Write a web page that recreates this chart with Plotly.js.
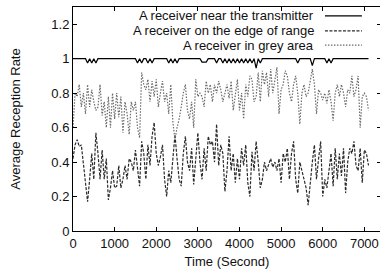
<!DOCTYPE html>
<html>
<head>
<meta charset="utf-8">
<script src="https://cdn.plot.ly/plotly-3.0.1.min.js"></script>
<style>html,body{margin:0;padding:0;overflow:hidden;background:#fff;}</style>
</head>
<body>
<div id="chart"></div>
<script>
// Time axis (seconds), one sample every 50 s
const timeStart = 0, timeStep = 50, timeCount = 143;
const times = Array.from({length: timeCount}, (_, i) => timeStart + i * timeStep);

const seriesNames = ["A receiver near the transmitter", "A receiver on the edge of range", "A receiver in grey area"];

// Near transmitter: 1.0 with small dips
const nearDipTimes = [350, 450, 550, 1550, 1650, 1800, 1900, 2300, 2400, 2500, 3100, 3150, 3200,
  3450, 3600, 3700, 3800, 3900, 4000, 4100, 4200, 4300, 4400, 4500, 5400, 5750, 6100, 6200];
const nearDipValues = [0.975, 0.975, 0.975, 0.975, 0.975, 0.975, 0.975, 0.975, 0.975, 0.975, 0.98, 0.98, 0.98,
  0.975, 0.975, 0.975, 0.975, 0.975, 0.975, 0.975, 0.975, 0.975, 0.945, 0.975, 0.975, 0.96, 0.975, 0.975];

const edgeValues = [
  0.42,0.50,0.53,0.49,0.50,0.38,0.30,0.17,0.30,0.45,
  0.30,0.57,0.45,0.30,0.47,0.30,0.42,0.18,0.25,0.35,
  0.25,0.26,0.38,0.25,0.30,0.38,0.30,0.42,0.40,0.35,
  0.47,0.35,0.26,0.52,0.45,0.30,0.50,0.38,0.55,0.63,
  0.45,0.38,0.43,0.50,0.30,0.20,0.35,0.28,0.40,0.56,
  0.42,0.30,0.26,0.45,0.55,0.40,0.35,0.48,0.27,0.45,
  0.57,0.40,0.30,0.48,0.35,0.55,0.50,0.52,0.40,0.62,
  0.38,0.50,0.45,0.23,0.35,0.55,0.35,0.45,0.28,0.42,
  0.30,0.48,0.38,0.50,0.28,0.20,0.46,0.35,0.52,0.40,
  0.25,0.30,0.40,0.35,0.38,0.42,0.37,0.40,0.35,0.42,
  0.28,0.45,0.40,0.48,0.30,0.45,0.52,0.30,0.22,0.40,
  0.35,0.30,0.25,0.15,0.30,0.40,0.50,0.30,0.42,0.52,
  0.20,0.30,0.25,0.35,0.45,0.26,0.48,0.30,0.45,0.32,
  0.48,0.22,0.40,0.48,0.45,0.52,0.38,0.35,0.48,0.28,
  0.47,0.45,0.38];

const greyValues = [
  0.60,0.80,0.78,0.85,0.72,0.80,0.68,0.85,0.72,0.82,
  0.75,0.70,0.72,0.85,0.67,0.75,0.60,0.78,0.60,0.80,
  0.65,0.80,0.66,0.78,0.57,0.75,0.68,0.56,0.75,0.70,
  0.75,0.60,0.54,0.92,0.85,0.82,0.88,0.75,0.87,0.78,
  0.88,0.72,0.80,0.87,0.75,0.80,0.68,0.85,0.63,0.53,
  0.60,0.65,0.72,0.80,0.85,0.70,0.65,0.75,0.60,0.88,
  0.78,0.80,0.78,0.72,0.87,0.80,0.85,0.75,0.85,0.80,
  0.87,0.82,0.75,0.80,0.85,0.77,0.87,0.70,0.80,0.88,
  0.70,0.80,0.65,0.85,0.78,0.90,0.88,0.75,0.78,0.92,
  0.75,0.93,0.85,0.92,0.78,0.94,0.80,0.88,0.95,0.68,
  0.82,0.85,0.93,0.90,0.80,0.75,0.85,0.90,0.80,0.62,
  0.80,0.85,0.78,0.80,0.88,0.94,0.85,0.68,0.82,0.80,
  0.76,0.80,0.74,0.82,0.75,0.64,0.80,0.85,0.78,0.85,
  0.80,0.72,0.82,0.80,0.90,0.78,0.82,0.90,0.60,0.78,
  0.80,0.78,0.70];

const xTickVals = [0,1000,2000,3000,4000,5000,6000,7000];
const yTickVals = [0,0.2,0.4,0.6,0.8,1,1.2];
const yTickText = ["0","0.2","0.4","0.6","0.8","1","1.2"];

const nearValues = times.map(t => {
  const k = nearDipTimes.indexOf(t);
  return k >= 0 ? nearDipValues[k] : 1;
});

const styles = [
  {color: "#000000", dash: "solid", width: 1.2},
  {color: "#2a2a2a", dash: "3px,1.5px", width: 1.2},
  {color: "#6a6a6a", dash: "1.5px,1.5px", width: 1.2}
];
const seriesValues = [nearValues, edgeValues, greyValues];

const traces = seriesValues.map((v, i) => ({
  x: times, y: v, type: "scatter", mode: "lines", name: seriesNames[i],
  line: {color: styles[i].color, dash: styles[i].dash, width: styles[i].width},
  showlegend: false, hoverinfo: "skip"
}));

const font = {family: "Liberation Sans, Arial, sans-serif", size: 13, color: "#111"};
const legendTextX = 0.789, legendLineX0 = 0.818, legendLineX1 = 0.938;
const legendRowY = [0.960, 0.893, 0.830];

const annotations = seriesNames.map((n, i) => ({
  xref: "paper", yref: "paper", x: legendTextX, y: legendRowY[i],
  xanchor: "right", yanchor: "middle", text: n, showarrow: false, font: font
}));
const shapes = seriesNames.map((n, i) => ({
  type: "line", xref: "paper", yref: "paper",
  x0: legendLineX0, x1: legendLineX1, y0: legendRowY[i], y1: legendRowY[i],
  line: {color: styles[i].color, dash: styles[i].dash, width: styles[i].width}
}));

const axisCommon = {
  showgrid: false, zeroline: false, showline: true, linecolor: "#000", linewidth: 1,
  ticks: "inside", ticklen: 4, tickcolor: "#000", mirror: "ticks", tickfont: font,
  automargin: true
};

const layout = {
  width: 384, height: 274,
  margin: {l: 73, r: 3, t: 7, b: 43},
  paper_bgcolor: "#fff", plot_bgcolor: "#fff",
  font: font,
  xaxis: Object.assign({}, axisCommon, {
    range: [0, 7400], tickvals: xTickVals, ticktext: xTickVals.map(String),
    title: {text: "Time (Second)", font: font, standoff: 7}
  }),
  yaxis: Object.assign({}, axisCommon, {
    range: [0, 1.3], tickvals: yTickVals, ticktext: yTickText,
    title: {text: "Average Reception Rate", font: font, standoff: 27}
  }),
  annotations: annotations,
  shapes: shapes
};

Plotly.newPlot("chart", traces, layout, {staticPlot: true, displayModeBar: false});
</script>
</body>
</html>
